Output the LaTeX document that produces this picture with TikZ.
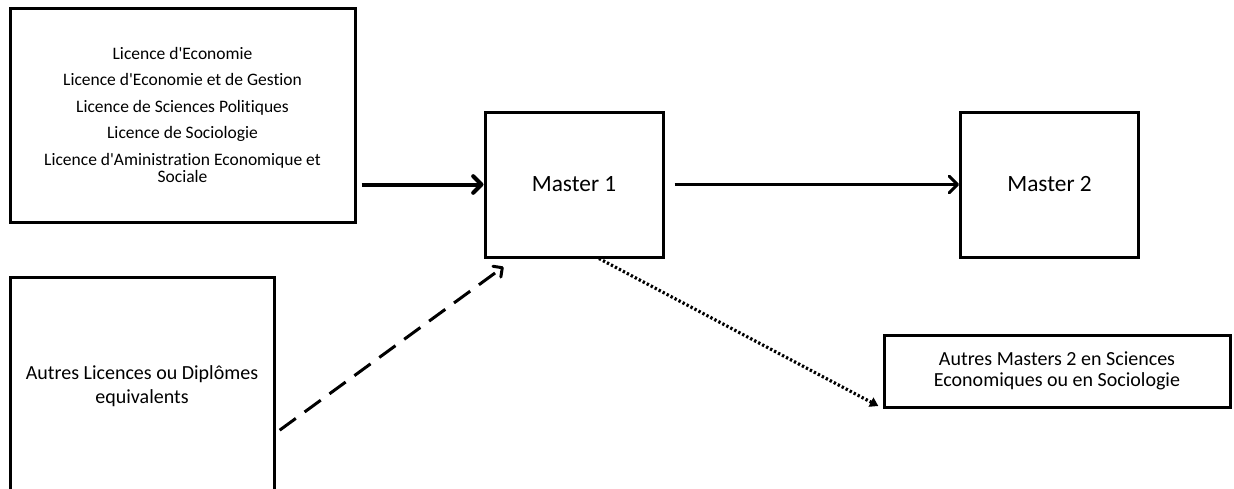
\documentclass[tikz,border=0pt]{standalone}
\usepackage{fontspec}
\setmainfont{Carlito}[Ligatures=NoCommon]
\usetikzlibrary{arrows.meta}

\begin{document}
\begin{tikzpicture}[x=0.6pt, y=-0.6pt,
    box/.style={draw, line width=1.8pt, align=center, inner sep=0pt},
    barb/.style={-{Straight Barb[length=5pt, width=10pt, round]}}]
    \useasboundingbox (0,0) rectangle (1234,488);

    \node[box, minimum width=207pt, minimum height=128.4pt, font=\fontsize{10.5}{10.5}\selectfont] (lic) at (182.5,115)
        {Licence d\textquotesingle Economie\\[5.4pt]Licence d\textquotesingle Economie et de Gestion\\[5.4pt]Licence de Sciences Politiques\\[5.4pt]Licence de Sociologie\\[5.4pt]Licence d\textquotesingle Aministration Economique et\\Sociale};
    \node[box, minimum width=158.4pt, minimum height=130.8pt, font=\fontsize{12}{14.4}\selectfont] (autres) at (142,386)
        {Autres Licences ou Diplômes\\equivalents};
    \node[box, minimum width=106.8pt, minimum height=87pt, font=\fontsize{14}{17}\selectfont] (mi) at (574,184.5) {Master 1};
    \node[box, minimum width=106.8pt, minimum height=87pt, font=\fontsize{14}{17}\selectfont] (mii) at (1049.5,184.5) {Master 2};
    \node[box, minimum width=207.6pt, minimum height=43.2pt, font=\fontsize{12}{12.6}\selectfont] (am) at (1057,371)
        {Autres Masters 2 en Sciences\\Economiques ou en Sociologie};

    \draw[barb, line width=2.4pt, shorten <=3pt] (lic.east |- mi.west) -- (mi.west);
    \draw[barb, line width=1.8pt, shorten <=6pt] (mi.east) -- (mii.west);
    \draw[-{Straight Barb[length=4pt, width=8pt, round]}, line width=1.8pt, dash pattern=on 12pt off 6.5pt]
        ([xshift=2.5pt, yshift=-26.5pt]autres.east) -- ([xshift=12pt, yshift=-5pt]mi.south west);
    \draw[-{Triangle[length=5pt, width=6pt]}, line width=1.9pt, dash pattern=on 1.4pt off 1.3pt]
        ([xshift=15pt]mi.south) -- ([xshift=-2.5pt, yshift=1.5pt]am.south west);
\end{tikzpicture}
\end{document}
